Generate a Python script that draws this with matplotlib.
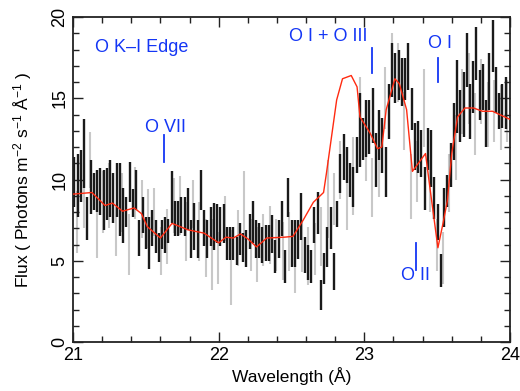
import numpy as np
import matplotlib
matplotlib.use('Agg')
import matplotlib.pyplot as plt

plt.rcParams['font.family'] = ['Liberation Sans', 'DejaVu Sans']
plt.rcParams['mathtext.fontset'] = 'custom'
plt.rcParams['mathtext.rm'] = 'Liberation Sans'
plt.rcParams['mathtext.it'] = 'Liberation Sans'

# black data set: flux and 1-sigma half errors, bins from 21.01 to 23.97 A
black_flux = [
    9.85, 9.65, 10.2, 11.6, 7.6, 9.55, 9.25, 9.3, 9.25, 8.75,
    9.1, 9.45, 8.85, 9.35, 8.75, 7.8, 8.0, 9.85, 8.55, 9.35, 6.4, 7.8,
    6.7, 6.1, 7.0, 6.5, 5.8, 6.6, 6.6, 6.85, 8.9, 7.6,
    7.6, 7.8, 7.7, 8.2, 6.35, 7.1, 6.35, 9.35, 7.0, 6.35, 7.1, 7.1, 7.3,
    7.1, 7.3, 6.05, 6.05, 6.05, 5.6, 6.35, 5.8, 5.75, 6.8,
    7.4, 6.35, 6.25, 5.95, 6.1, 6.1, 6.65, 5.25, 6.35, 7.6, 4.65, 8.9, 6.05,
    6.05, 6.3, 7.7, 5.35, 4.9, 4.65, 7.2, 7.95, 2.9, 4.55,
    5.85, 7.0, 4.35, 7.9, 10.4, 11.4, 10.9, 9.95, 9.55, 11.5, 13.05, 12.5, 13.15,
    13.25, 13.95, 11.2, 12.75, 12.1, 10.45, 14.2, 16.75, 16.25, 16.45,
    16.0, 16.2, 16.95, 14.35, 12.05, 12.0, 11.6, 9.45, 11.9, 11.3, 8.85, 7.4, 4.4,
    8.3, 9.3, 10.9, 12.95, 15.1, 13.9, 14.6, 17.35, 14.2, 15.7,
    17.75, 15.2, 15.7, 13.45, 16.05, 18.2, 15.5, 14.2, 14.55, 14.7,
]
black_err = [
    1.55, 1.95, 1.6, 2.1, 1.3, 1.65, 1.15, 1.3, 1.45, 1.85,
    1.6, 1.75, 1.55, 1.65, 2.25, 1.7, 0.9, 1.25, 0.85, 1.25, 1.1, 1.1,
    1.0, 1.6, 1.1, 1.0, 0.9, 0.9, 1.1, 0.75, 1.6, 1.1,
    1.1, 1.1, 1.2, 1.3, 1.15, 1.45, 1.15, 1.25, 1.1, 1.15, 1.2, 1.45, 1.2,
    1.2, 1.2, 1.0, 1.0, 1.0, 0.85, 1.0, 0.9, 1.15, 1.1,
    1.3, 1.15, 1.05, 1.1, 1.1, 1.1, 1.15, 1.0, 1.15, 1.1, 1.0, 1.2, 1.45,
    1.45, 1.2, 1.45, 1.1, 1.1, 1.0, 1.1, 1.3, 0.9, 0.95,
    1.25, 1.3, 1.15, 0.8, 1.2, 1.4, 1.1, 1.05, 1.25, 1.1, 2.25, 1.3, 1.75,
    1.65, 1.7, 1.65, 1.55, 1.7, 1.55, 1.7, 1.65, 1.55, 1.55,
    1.5, 1.3, 1.45, 1.3, 1.45, 1.6, 1.45, 1.35, 1.3, 1.75, 1.3, 1.1, 1.0,
    1.2, 1.0, 1.35, 1.75, 2.25, 1.6, 2.0, 1.65, 1.7, 1.6,
    1.65, 1.55, 1.4, 1.45, 1.75, 1.6, 1.4, 1.1, 1.35, 1.6,
]

# gray data set, bins from 21.03 to 23.98 A
gray_flux = [
    7.4, 9.0, 11.2, 6.9, 8.6, 9.0, 6.8, 8.6, 6.0, 9.2,
    8.2, 7.6, 8.0, 5.6, 6.5, 8.4, 8.4, 6.8, 8.5, 6.8,
    5.8, 5.4, 5.2, 7.6, 4.6, 6.4, 8.4, 6.0, 5.4, 6.3,
    6.6, 6.0, 5.6, 6.2, 4.65, 5.9, 5.3, 5.7, 6.5, 8.8,
    8.8, 10.6, 8.6, 10.2, 14.7, 11.7, 9.5, 11.5, 15.0, 17.3,
    16.6, 13.6, 9.55, 10.5, 14.4, 9.6, 6.0, 5.2, 9.8, 12.0,
    14.8, 15.6, 13.4, 15.4, 14.0, 14.2, 13.8, 14.2,
]
gray_err = [
    1.9, 2.0, 1.7, 1.7, 1.9, 2.0, 1.5, 1.8, 1.9, 1.6,
    1.8, 1.8, 1.5, 1.5, 1.7, 1.7, 1.8, 1.8, 1.5, 1.8,
    1.8, 2.2, 1.6, 1.4, 2.3, 1.7, 2.1, 1.6, 1.7, 1.6,
    1.8, 1.6, 1.8, 1.8, 1.65, 1.6, 1.8, 1.6, 1.8, 2.4,
    1.6, 1.8, 1.7, 2.4, 1.6, 1.8, 1.8, 2.6, 1.9, 1.7,
    1.8, 1.8, 2.0, 1.9, 2.4, 1.6, 1.6, 1.6, 1.8, 2.0,
    2.0, 2.2, 1.9, 2.0, 2.0, 1.9, 2.0, 1.9,
]

# model curve
model_wave = [21.0, 21.13, 21.22, 21.27, 21.34, 21.42, 21.47, 21.51, 21.6, 21.68,
              21.79, 21.9, 22.0, 22.05, 22.1, 22.15, 22.2, 22.26, 22.33, 22.45,
              22.51, 22.58, 22.65, 22.72, 22.74, 22.81, 22.85, 22.91, 22.95, 22.97,
              23.04, 23.09, 23.12, 23.15, 23.21, 23.24, 23.29, 23.33, 23.42, 23.45,
              23.505, 23.54, 23.57, 23.6, 23.64, 23.69, 23.75, 23.81, 23.88, 24.0]
model_flux = [9.1, 9.2, 8.4, 8.55, 8.05, 8.25, 7.9, 7.1, 6.4, 7.3,
              6.9, 6.7, 6.1, 6.45, 6.4, 6.65, 6.35, 5.85, 6.4, 6.45,
              6.5, 7.5, 8.6, 9.2, 10.4, 14.9, 16.2, 16.4, 15.7, 13.85,
              12.85, 11.9, 12.0, 14.3, 16.2, 15.9, 14.3, 10.5, 11.6, 9.5,
              5.8, 7.3, 8.7, 11.6, 13.85, 14.4, 14.4, 14.2, 14.2, 13.7]

black_wave = np.linspace(21.01, 23.97, len(black_flux))
gray_wave = np.linspace(21.03, 23.98, len(gray_flux))

fig = plt.figure(figsize=(5.2, 3.91), dpi=100)
ax = fig.add_axes([0.1404, 0.1253, 0.8404, 0.8312])

ax.errorbar(gray_wave, gray_flux, yerr=gray_err, fmt='none', ecolor='#c8c8c8',
            elinewidth=1.5, capsize=0, zorder=1)
ax.errorbar(black_wave, black_flux, yerr=black_err, fmt='none', ecolor='#1a1a1a',
            elinewidth=1.7, capsize=0, zorder=2)
ax.plot(model_wave, model_flux, color='#ff2a10', lw=1.0, zorder=3)

blue = '#1436f5'
ax.text(21.15, 18.15, 'O K\u2013I Edge', color=blue, fontsize=13, va='center', ha='left')
ax.text(21.635, 13.2, 'O VII', color=blue, fontsize=13, va='center', ha='center')
ax.plot([21.625, 21.625], [11.1, 12.75], color=blue, lw=1.3)
ax.text(22.75, 18.8, 'O I + O III', color=blue, fontsize=13, va='center', ha='center')
ax.plot([23.05, 23.05], [16.55, 18.1], color=blue, lw=1.3)
ax.text(23.52, 18.4, 'O I', color=blue, fontsize=13, va='center', ha='center')
ax.plot([23.505, 23.505], [16.0, 17.5], color=blue, lw=1.3)
ax.text(23.35, 4.1, 'O II', color=blue, fontsize=13, va='center', ha='center')
ax.plot([23.355, 23.355], [4.45, 6.1], color=blue, lw=1.3)

ax.set_xlim(21, 24)
ax.set_ylim(0, 20)
ax.set_xticks([21, 22, 23, 24])
ax.set_yticks([0, 5, 10, 15, 20])
ax.set_xticks(np.arange(21, 24.01, 0.2), minor=True)
ax.set_yticks(np.arange(0, 20.01, 1), minor=True)
ax.tick_params(which='both', direction='in', top=True, right=True, labelsize=13,
               color='#222222', width=1.0)
ax.tick_params(which='major', length=7)
ax.tick_params(which='minor', length=4)
for lab in ax.get_yticklabels():
    lab.set_rotation(90)
    lab.set_va('center')
for sp in ax.spines.values():
    sp.set_linewidth(1.3)
    sp.set_color('#222222')

ax.set_xlabel('Wavelength (\u00c5)', fontsize=12.5, labelpad=2)
ax.set_ylabel('Flux ( Photons m$^{-2}$ s$^{-1}$ \u00c5$^{-1}$ )', fontsize=12.5, labelpad=12)

fig.savefig('out.png', dpi=100)
